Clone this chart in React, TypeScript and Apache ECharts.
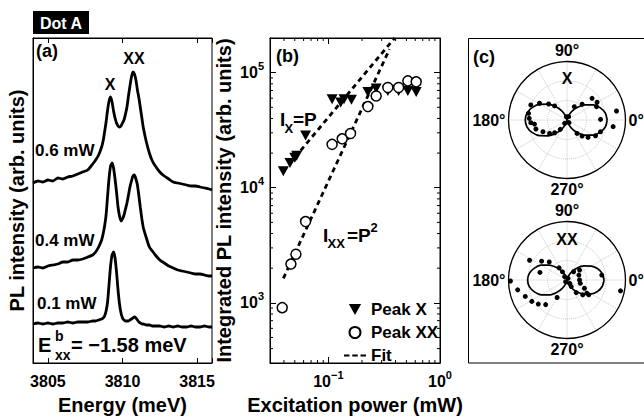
import React, { useEffect, useRef } from 'react';
import * as echarts from 'echarts';

// ---------- Panel (a): PL spectra ----------
const energy = [3804.0, 3804.33, 3804.67, 3805.0, 3805.33, 3805.67, 3806.0, 3806.33, 3806.67, 3807.0, 3807.33, 3807.67, 3808.0, 3808.2, 3808.4, 3808.6, 3808.7, 3808.8, 3808.9, 3809.0, 3809.1, 3809.2, 3809.3, 3809.4, 3809.5, 3809.6, 3809.7, 3809.8, 3809.9, 3810.0, 3810.1, 3810.2, 3810.3, 3810.4, 3810.5, 3810.6, 3810.7, 3810.8, 3810.9, 3811.0, 3811.1, 3811.2, 3811.3, 3811.4, 3811.6, 3811.8, 3812.0, 3812.2, 3812.5, 3812.8, 3813.1, 3813.4, 3813.7, 3814.0, 3814.3, 3814.6, 3814.9, 3815.2, 3815.5, 3815.8, 3816.0];
const spectrum06mW = [180, 182, 181, 183, 182, 185, 184, 186, 187, 189, 191, 193, 199, 203, 208, 216, 222, 231, 241, 253, 262, 266, 261, 252, 245, 240, 237, 236, 237, 240, 243, 249, 256, 267, 277, 286, 291, 289, 283, 273, 265, 255, 245, 235, 221, 210, 202, 197, 191, 187, 184, 181, 180, 179, 178, 177, 177, 176, 175, 174, 173];
const spectrum04mW = [95, 96, 95, 97, 98, 99, 101, 101, 103, 103, 104, 106, 108, 111, 116, 123, 129, 137, 148, 167, 185, 197, 200, 195, 184, 171, 156, 147, 142, 144, 148, 154, 160, 168, 176, 182, 187, 188, 184, 178, 167, 155, 144, 135, 125, 116, 112, 108, 103, 100, 97, 95, 93, 92, 91, 90, 89, 89, 88, 87, 87];
const spectrum01mW = [39, 40, 39, 40, 39, 40, 40, 41, 40, 41, 41, 41, 42, 42, 43, 44, 45, 47, 52, 61, 79, 97, 108, 111, 105, 91, 73, 59, 50, 45, 43, 42, 42, 42, 43, 44, 45, 46, 45, 43, 41, 40, 39, 39, 38, 38, 37, 37, 37, 36, 37, 36, 37, 36, 36, 37, 36, 36, 37, 36, 36];

// ---------- Panel (b): integrated intensity vs power ----------
const powerX = [0.0395, 0.0453, 0.05, 0.052, 0.0625, 0.108, 0.129, 0.138, 0.161, 0.226, 0.268, 0.341, 0.426, 0.515, 0.612];
const intensityX = [13900, 16400, 18200, 19000, 28400, 58800, 55000, 58800, 58000, 68000, 72800, 69300, 69300, 69300, 68000];
const powerXX = [0.0386, 0.0462, 0.0512, 0.0625, 0.108, 0.133, 0.158, 0.226, 0.268, 0.341, 0.426, 0.515, 0.612];
const intensityXX = [908, 2170, 2640, 5080, 23800, 26600, 29600, 50700, 62700, 74300, 74300, 84800, 83200];
const fitXPower = [0.0395, 0.392];
const fitXIntensity = [13900, 200000];
const fitXXPower = [0.0395, 0.353];
const fitXXIntensity = [1630, 160000];
const minorTicksY = [400, 500, 600, 700, 800, 900, 2000, 3000, 4000, 5000, 6000, 7000, 8000, 9000, 20000, 30000, 40000, 50000, 60000, 70000, 80000, 90000];
const minorTicksX = [0.04, 0.05, 0.06, 0.07, 0.08, 0.09, 0.2, 0.3, 0.4, 0.5, 0.6, 0.7, 0.8, 0.9];

// ---------- Panel (c): polarization ----------
const fitAngles = [0, 10, 20, 30, 40, 50, 60, 70, 80, 90, 100, 110, 120, 130, 140, 150, 160, 170, 180, 190, 200, 210, 220, 230, 240, 250, 260, 270, 280, 290, 300, 310, 320, 330, 340, 350, 360];
const fitRadiusX = [2.06, 2.0, 1.82, 1.55, 1.21, 0.85, 0.52, 0.24, 0.06, 0, 0.06, 0.25, 0.54, 0.88, 1.26, 1.61, 1.89, 2.08, 2.14, 2.08, 1.89, 1.61, 1.26, 0.88, 0.54, 0.25, 0.06, 0, 0.06, 0.24, 0.52, 0.85, 1.21, 1.55, 1.82, 2.0, 2.06];
const fitRadiusXX = [1.9, 1.84, 1.68, 1.43, 1.12, 0.78, 0.48, 0.22, 0.06, 0, 0.06, 0.24, 0.51, 0.83, 1.19, 1.52, 1.78, 1.96, 2.02, 1.96, 1.78, 1.52, 1.19, 0.83, 0.51, 0.24, 0.06, 0, 0.06, 0.22, 0.48, 0.78, 1.12, 1.43, 1.68, 1.84, 1.9];
const dotAngleX = [157.4, 148.6, 138.9, 131.4, 170.1, 177.5, 184.2, 187.1, 196.2, 205.9, 217.6, 225.8, 234.5, 235, 101, 63, 307, 61.2, 46.2, 40.9, 30.5, 24.4, 1.1, 10.3, 351.8, 340.7, 331.1, 320.5, 313.2, 306.9];
const dotRadiusX = [2.01, 1.65, 1.25, 0.96, 2.0, 1.94, 1.86, 1.68, 1.66, 1.37, 1.13, 0.91, 0.59, 0.21, 0.17, 0.19, 0.17, 0.78, 1.12, 1.7, 1.79, 1.66, 1.72, 2.58, 2.39, 1.82, 1.67, 1.4, 1.13, 0.86];
const dotAngleXX = [152.2, 143.5, 134.5, 164.3, 181, 191.3, 201.5, 211.3, 220, 229.1, 240.5, 123, 119.2, 125, 231, 59, 308.7, 303, 306.4, 38.3, 22.6, 0, 346, 334.7, 326.3, 325.7, 316.8, 8.1, 348.6, 51.3];
const dotRadiusXX = [2.17, 1.62, 1.3, 1.44, 2.9, 2.58, 2.3, 2.11, 1.92, 1.67, 1.03, 0.74, 0.48, 0.21, 0.11, 0.1, 0.22, 0.4, 0.8, 0.82, 0.66, 0.64, 0.7, 0.99, 1.22, 1.35, 1.11, 1.8, 2.8, 0.54];

const FONT = '"Liberation Sans", Arial, Helvetica, sans-serif';

const pow10Label = (v: number) => {
  const e = Math.log10(v);
  const r = Math.round(e);
  if (Math.abs(e - r) > 1e-6) return '';
  return `{b|10}{s|${r < 0 ? '\u2212' + -r : r}}`;
};
const powRich = {
  b: { fontSize: 16, fontWeight: 'bold', fontFamily: FONT, color: '#000', lineHeight: 24 },
  s: { fontSize: 11, fontWeight: 'bold', fontFamily: FONT, color: '#000', verticalAlign: 'top', lineHeight: 12 },
};

const txt = (text: string, x: number, y: number, size: number, align = 'left', fill = '#000') => ({
  type: 'text',
  x,
  y,
  z: 100,
  style: { text, fill, fontSize: size, fontWeight: 'bold', fontFamily: FONT, align, verticalAlign: 'middle' },
});

const black = { color: '#000', width: 1 };
const DASH_ICON = 'path://M0,0h6v2.4h-6z M9,0h6v2.4h-6z M18,0h6v2.4h-6z';
const TRI_DOWN = 'path://M0,0L10,0L5,9Z';

function buildOption(): any {
  const specSeries = [spectrum06mW, spectrum04mW, spectrum01mW].map((s, k) => ({
    type: 'line',
    name: ['0.6 mW', '0.4 mW', '0.1 mW'][k],
    xAxisIndex: 0,
    yAxisIndex: 0,
    data: energy.map((e, i) => [e, s[i]]),
    showSymbol: false,
    smooth: 0.2,
    lineStyle: { color: '#000', width: 2.8 },
    z: 3,
  }));

  const minorTickStyle = { stroke: '#000', lineWidth: 1 };

  return {
    animation: false,
    backgroundColor: '#fff',
    grid: [
      { left: 33, top: 38, width: 179, height: 325, show: true, borderColor: '#000', borderWidth: 1, backgroundColor: 'transparent' },
      { left: 270, top: 38, width: 170, height: 325, show: true, borderColor: '#000', borderWidth: 1, backgroundColor: 'transparent' },
    ],
    xAxis: [
      {
        gridIndex: 0, type: 'value', min: 3804, max: 3816, splitNumber: 2, position: 'bottom',
        axisLine: { lineStyle: black }, axisTick: { inside: true, length: 5, lineStyle: black },
        axisLabel: { margin: 10, fontSize: 16, fontWeight: 'bold', fontFamily: FONT, color: '#000', formatter: (v: number) => (Math.abs(v % 5) < 1e-6 ? String(v) : '') },
        splitLine: { show: false },
        name: 'Energy (meV)', nameLocation: 'middle', nameGap: 32,
        nameTextStyle: { fontSize: 20, fontWeight: 'bold', fontFamily: FONT, color: '#000' },
      },
      {
        gridIndex: 0, type: 'value', min: 3804, max: 3816, splitNumber: 2, position: 'top',
        axisLine: { lineStyle: black }, axisTick: { inside: true, length: 5, lineStyle: black },
        axisLabel: { show: false }, splitLine: { show: false },
      },
      {
        gridIndex: 1, type: 'log', logBase: 10, min: 0.03, max: 1, position: 'bottom',
        axisLine: { lineStyle: black }, axisTick: { inside: true, length: 6, lineStyle: black },
        axisLabel: { margin: 6, formatter: pow10Label, rich: powRich },
        splitLine: { show: false },
        name: 'Excitation power (mW)', nameLocation: 'middle', nameGap: 32,
        nameTextStyle: { fontSize: 20, fontWeight: 'bold', fontFamily: FONT, color: '#000' },
      },
      {
        gridIndex: 1, type: 'log', logBase: 10, min: 0.03, max: 1, position: 'top',
        axisLine: { lineStyle: black }, axisTick: { inside: true, length: 6, lineStyle: black },
        axisLabel: { show: false }, splitLine: { show: false },
      },
    ],
    yAxis: [
      {
        gridIndex: 0, type: 'value', min: 0, max: 325,
        axisLine: { lineStyle: black }, axisTick: { show: false }, axisLabel: { show: false }, splitLine: { show: false },
        name: 'PL intensity (arb. units)', nameLocation: 'middle', nameGap: 6,
        nameTextStyle: { fontSize: 20, fontWeight: 'bold', fontFamily: FONT, color: '#000' },
      },
      {
        gridIndex: 1, type: 'log', logBase: 10, min: 300, max: 200000, position: 'left',
        axisLine: { lineStyle: black }, axisTick: { inside: true, length: 6, lineStyle: black },
        axisLabel: { margin: 6, formatter: pow10Label, rich: powRich },
        splitLine: { show: false },
        name: 'Integrated PL intensity (arb. units)', nameLocation: 'middle', nameGap: 36,
        nameTextStyle: { fontSize: 20, fontWeight: 'bold', fontFamily: FONT, color: '#000' },
      },
      {
        gridIndex: 1, type: 'log', logBase: 10, min: 300, max: 200000, position: 'right',
        axisLine: { lineStyle: black }, axisTick: { inside: true, length: 6, lineStyle: black },
        axisLabel: { show: false }, splitLine: { show: false },
      },
    ],
    polar: [
      { center: [567, 120], radius: 58.5 },
      { center: [567, 280], radius: 58.5 },
    ],
    angleAxis: [0, 1].map((i) => ({
      polarIndex: i, type: 'value', min: 0, max: 360, interval: 30, startAngle: 0, clockwise: false,
      axisLine: { show: true, lineStyle: { color: '#000', width: 1.3 } },
      axisTick: { show: false },
      axisLabel: {
        show: true, margin: 3, fontSize: 16, fontWeight: 'bold', fontFamily: FONT, color: '#000',
        formatter: (v: number) => (v % 90 === 0 && v < 360 ? `${v}°` : ''),
      },
      splitLine: { show: true, lineStyle: { color: '#c4c4c4', type: 'dotted', width: 1 } },
    })),
    radiusAxis: [0, 1].map((i) => ({
      polarIndex: i, type: 'value', min: 0, max: 3, interval: 1,
      axisLine: { show: false }, axisTick: { show: false }, axisLabel: { show: false },
      splitLine: { show: true, lineStyle: { color: '#c4c4c4', type: 'dotted', width: 1 } },
    })),
    legend: {
      show: true, orient: 'vertical', left: 339, top: 296, itemWidth: 22, itemHeight: 11, itemGap: 6,
      selectedMode: false,
      data: [{ name: 'Peak X' }, { name: 'Peak XX' }, { name: 'Fit', icon: DASH_ICON }],
      textStyle: { fontSize: 17, fontWeight: 'bold', fontFamily: FONT, color: '#000' },
    },
    series: [
      ...specSeries,
      {
        type: 'line', name: 'Fit', xAxisIndex: 2, yAxisIndex: 1,
        data: fitXPower.map((p, i) => [p, fitXIntensity[i]]),
        showSymbol: false, symbol: 'none', lineStyle: { color: '#000', width: 2.8, type: [5, 4] }, itemStyle: { color: '#000' }, z: 2,
      },
      {
        type: 'line', name: 'Fit', xAxisIndex: 2, yAxisIndex: 1,
        data: fitXXPower.map((p, i) => [p, fitXXIntensity[i]]),
        showSymbol: false, symbol: 'none', lineStyle: { color: '#000', width: 2.8, type: [5, 4] }, itemStyle: { color: '#000' }, z: 2,
      },
      {
        type: 'scatter', name: 'Peak X', xAxisIndex: 2, yAxisIndex: 1,
        data: powerX.map((p, i) => [p, intensityX[i]]),
        symbol: TRI_DOWN, symbolSize: [11, 10], itemStyle: { color: '#000', opacity: 1 }, z: 4,
      },
      {
        type: 'scatter', name: 'Peak XX', xAxisIndex: 2, yAxisIndex: 1,
        data: powerXX.map((p, i) => [p, intensityXX[i]]),
        symbol: 'circle', symbolSize: 10, itemStyle: { color: '#fff', borderColor: '#000', borderWidth: 1.5, opacity: 1 }, z: 5,
      },
      {
        type: 'custom', xAxisIndex: 2, yAxisIndex: 1, silent: true, clip: false,
        data: minorTicksY.map((v) => [0.1, v]),
        renderItem: (params: any, api: any) => {
          const p = api.coord([api.value(0), api.value(1)]);
          const cs = params.coordSys;
          return {
            type: 'group',
            children: [
              { type: 'line', shape: { x1: cs.x, y1: p[1], x2: cs.x + 3, y2: p[1] }, style: minorTickStyle },
              { type: 'line', shape: { x1: cs.x + cs.width, y1: p[1], x2: cs.x + cs.width - 3, y2: p[1] }, style: minorTickStyle },
            ],
          };
        },
      },
      {
        type: 'custom', xAxisIndex: 2, yAxisIndex: 1, silent: true, clip: false,
        data: minorTicksX.map((v) => [v, 1000]),
        renderItem: (params: any, api: any) => {
          const p = api.coord([api.value(0), api.value(1)]);
          const cs = params.coordSys;
          return {
            type: 'group',
            children: [
              { type: 'line', shape: { x1: p[0], y1: cs.y + cs.height, x2: p[0], y2: cs.y + cs.height - 3 }, style: minorTickStyle },
              { type: 'line', shape: { x1: p[0], y1: cs.y, x2: p[0], y2: cs.y + 3 }, style: minorTickStyle },
            ],
          };
        },
      },
      {
        type: 'line', name: 'X fit', coordinateSystem: 'polar', polarIndex: 0,
        data: fitAngles.map((a, i) => [fitRadiusX[i], a]),
        showSymbol: false, symbol: 'none', smooth: 0.3, lineStyle: { color: '#000', width: 1.7 }, z: 3,
      },
      {
        type: 'scatter', name: 'X data', coordinateSystem: 'polar', polarIndex: 0,
        data: dotAngleX.map((a, i) => [dotRadiusX[i], a]),
        symbol: 'circle', symbolSize: 5, itemStyle: { color: '#000', opacity: 1 }, z: 4,
      },
      {
        type: 'line', name: 'XX fit', coordinateSystem: 'polar', polarIndex: 1,
        data: fitAngles.map((a, i) => [fitRadiusXX[i], a]),
        showSymbol: false, symbol: 'none', smooth: 0.3, lineStyle: { color: '#000', width: 1.7 }, z: 3,
      },
      {
        type: 'scatter', name: 'XX data', coordinateSystem: 'polar', polarIndex: 1,
        data: dotAngleXX.map((a, i) => [dotRadiusXX[i], a]),
        symbol: 'circle', symbolSize: 5, itemStyle: { color: '#000', opacity: 1 }, z: 4,
      },
    ],
    graphic: [
      { type: 'rect', shape: { x: 33, y: 11, width: 56, height: 23 }, style: { fill: '#000' }, z: 90 },
      txt('Dot A', 61, 23, 16, 'center', '#fff'),
      txt('(a)', 36, 51, 18),
      txt('X', 110, 84, 16, 'center'),
      txt('XX', 134, 58, 16, 'center'),
      txt('0.6 mW', 35, 150, 17),
      txt('0.4 mW', 35, 240, 17),
      txt('0.1 mW', 37, 303, 17),
      txt('E', 38, 345, 20),
      txt('b', 55, 336, 14),
      txt('xx', 55, 355, 14),
      txt('= \u22121.58 meV', 71, 345, 20),
      txt('(b)', 276, 56, 18),
      txt('I', 280, 119, 19),
      txt('X', 284.5, 128, 13),
      txt('=P', 293, 119, 19),
      txt('I', 323, 235.5, 19),
      txt('XX', 327.5, 243, 13),
      txt('=P', 347, 235.5, 19),
      txt('2', 370.5, 227, 13),
      { type: 'rect', shape: { x: 468.5, y: 38.5, width: 200, height: 324.5 }, style: { fill: 'none', stroke: '#000', lineWidth: 1 }, z: 90 },
      txt('(c)', 473, 57, 18),
      txt('X', 567, 78, 16, 'center'),
      txt('XX', 567, 239, 16, 'center'),
    ],
  };
}

export default function App() {
  const ref = useRef<HTMLDivElement>(null);
  useEffect(() => {
    if (!ref.current) return;
    const chart = echarts.init(ref.current, undefined, { renderer: 'svg' });
    chart.setOption(buildOption());
    return () => chart.dispose();
  }, []);
  return (
    <div
      ref={ref}
      style={{ position: 'absolute', left: 0, top: 0, width: 644, height: 420, background: '#fff' }}
    />
  );
}
